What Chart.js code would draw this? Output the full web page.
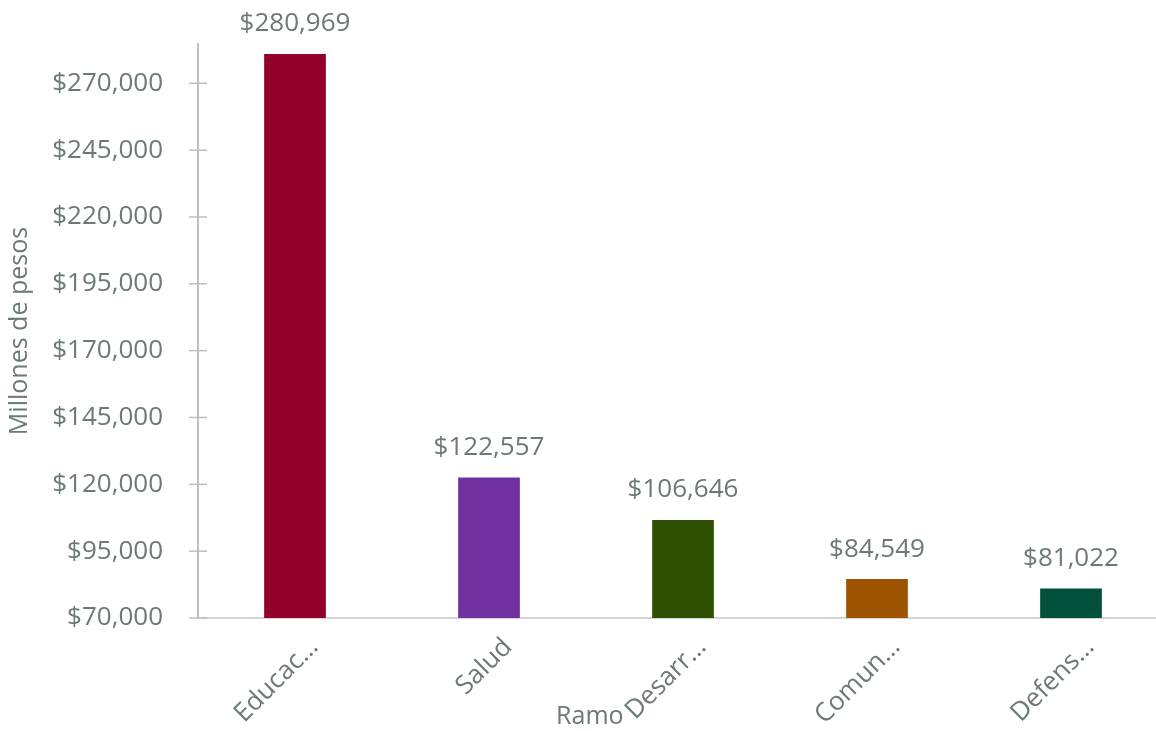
<!DOCTYPE html>
<html lang="es">
<head>
<meta charset="UTF-8" />
<title>Ramo - Millones de pesos</title>
<style>
  html, body {
    margin: 0; padding: 0;
    background: #fff;
    overflow: hidden;
  }
  .wrap {
    width: 1168px;
    height: 731px;
    position: relative;
  }
</style>
</head>
<body>
<div class="wrap">
  <canvas id="ramoChart"></canvas>
</div>

<script src="https://cdn.jsdelivr.net/npm/chart.js"></script>
<script>
  // Data
  const ramos = ['Educac…', 'Salud', 'Desarr…', 'Comun…', 'Defens…'];
  const montos = [280969, 122557, 106646, 84549, 81022];
  const colores = ['#93002a', '#7030a0', '#2e5000', '#9e5300', '#00503c'];
  const yTicks = [70000, 95000, 120000, 145000, 170000, 195000, 220000, 245000, 270000];
  const yMin = 70000;
  const yMax = 284700;

  const gris = '#6d7975';
  const fuente = "'Open Sans', 'Noto Sans', sans-serif";
  const money = v => '$' + Math.round(v).toLocaleString('en-US');

  // value labels above bars + crossing tick marks + x title
  const extras = {
    id: 'extras',
    afterDatasetsDraw(chart) {
      const ctx = chart.ctx;
      const meta = chart.getDatasetMeta(0);
      ctx.save();
      ctx.font = '26px ' + fuente;
      ctx.fillStyle = gris;
      ctx.textAlign = 'center';
      ctx.textBaseline = 'middle';
      meta.data.forEach((bar, i) => {
        ctx.fillText(money(montos[i]), bar.x, bar.y - 30);
      });

      const y = chart.scales.y;
      const x0 = chart.chartArea.left;
      ctx.strokeStyle = '#bfbfbf';
      ctx.lineWidth = 1.5;
      y.ticks.forEach(t => {
        const py = y.getPixelForValue(t.value);
        ctx.beginPath();
        ctx.moveTo(x0 - 9, py);
        ctx.lineTo(x0 + 9, py);
        ctx.stroke();
      });

      ctx.font = '25px ' + fuente;
      ctx.fillText('Ramo', chart.width * 0.505, chart.height - 14);
      ctx.restore();
    }
  };

  const ctx = document.getElementById('ramoChart').getContext('2d');
  new Chart(ctx, {
    type: 'bar',
    data: {
      labels: ramos,
      datasets: [{
        data: montos,
        backgroundColor: colores,
        barPercentage: 0.318,
        categoryPercentage: 1
      }]
    },
    options: {
      responsive: true,
      maintainAspectRatio: false,
      animation: false,
      layout: { padding: { top: 44, right: 0, left: 0, bottom: 0 } },
      plugins: {
        legend: { display: false },
        tooltip: { enabled: false }
      },
      scales: {
        x: {
          grid: { display: false, drawTicks: false },
          border: { display: true, color: '#d4d4d4', width: 2 },
          ticks: {
            color: gris,
            font: { family: fuente, size: 26 },
            minRotation: 45,
            maxRotation: 45,
            padding: 14,
            labelOffset: 19
          },
          afterFit(scale) { scale.height = 113; }
        },
        y: {
          min: yMin,
          max: yMax,
          grid: { display: false, drawTicks: false },
          border: { display: true, color: '#bfbfbf', width: 2 },
          ticks: {
            color: gris,
            font: { family: fuente, size: 26 },
            padding: 35,
            callback: v => money(v)
          },
          afterBuildTicks(scale) {
            scale.ticks = yTicks.map(v => ({ value: v }));
          },
          title: {
            display: true,
            text: 'Millones de pesos',
            color: gris,
            font: { family: fuente, size: 25 },
            padding: { top: 5, bottom: 0 }
          },
          afterFit(scale) {
            scale.width = 198;
            scale.paddingTop = 0;
            scale.paddingBottom = 0;
          }
        }
      }
    },
    plugins: [extras]
  });
</script>
</body>
</html>
